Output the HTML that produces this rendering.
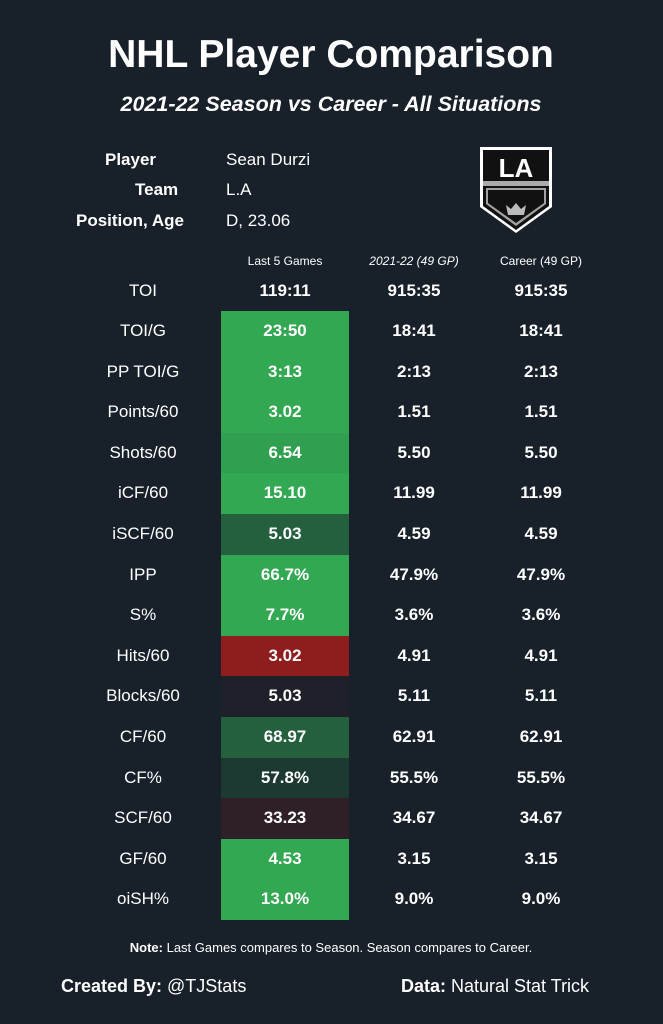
<!DOCTYPE html>
<html><head><meta charset="utf-8"><style>
body{margin:0;width:663px;height:1024px;background:#18202a;color:#fff;font-family:"Liberation Sans",sans-serif;position:relative;overflow:hidden}
.a{position:absolute;white-space:nowrap}
.c{transform:translateX(-50%)}
.row{position:absolute;left:0;width:663px;height:40.6px;line-height:40.6px;font-size:17px}
.row span{position:absolute;transform:translateX(-50%)}
.l{left:143px}
.v1{left:221px;width:128px;text-align:center;transform:none!important;font-weight:bold;height:40.6px}
.v2{left:414px;font-weight:bold}
.v3{left:541px;font-weight:bold}
</style></head><body>
<div class="a c" style="left:331px;top:33px;font-size:39px;font-weight:bold">NHL Player Comparison</div>
<div class="a c" style="left:331px;top:92px;font-size:21.5px;font-weight:bold;font-style:italic">2021-22 Season vs Career - All Situations</div>
<div class="a" style="left:105px;top:150px;font-size:17px;font-weight:bold">Player</div>
<div class="a" style="left:135px;top:180px;font-size:17px;font-weight:bold">Team</div>
<div class="a" style="left:76px;top:211px;font-size:17px;font-weight:bold">Position, Age</div>
<div class="a" style="left:226px;top:150px;font-size:17px">Sean Durzi</div>
<div class="a" style="left:226px;top:180px;font-size:17px">L.A</div>
<div class="a" style="left:226px;top:211px;font-size:17px">D, 23.06</div>
<svg class="a" style="left:478px;top:145px" width="76" height="90" viewBox="0 0 76 90">
<path d="M2 2H74V62L38 88L2 62Z" fill="#fff"/>
<path d="M5 5H71V61L38 85L5 61Z" fill="#111"/>
<path d="M5 36H71V41H5Z" fill="#aaa"/>
<path d="M8 43H68V59L38 81L8 59Z" fill="#a2a2a2"/><path d="M10 45H66V58L38 78L10 58Z" fill="#111"/>
<text x="38" y="32" text-anchor="middle" font-size="26" font-weight="bold" fill="#fff" font-family="Liberation Sans">LA</text>
<path d="M30 70L28 60L33 64L38 58L43 64L48 60L46 70Z" fill="#bbb"/>
</svg>
<div class="a c" style="left:285px;top:254px;font-size:12px">Last 5 Games</div>
<div class="a c" style="left:414px;top:254px;font-size:12px;font-style:italic">2021-22 (49 GP)</div>
<div class="a c" style="left:541px;top:254px;font-size:12px">Career (49 GP)</div>
<div class="row" style="top:271px"><span class="l">TOI</span><span class="v1">119:11</span><span class="v2">915:35</span><span class="v3">915:35</span></div>
<div class="row" style="top:311px"><span class="l">TOI/G</span><span class="v1" style="background:#33a852">23:50</span><span class="v2">18:41</span><span class="v3">18:41</span></div>
<div class="row" style="top:351.6px"><span class="l">PP TOI/G</span><span class="v1" style="background:#33a852">3:13</span><span class="v2">2:13</span><span class="v3">2:13</span></div>
<div class="row" style="top:392.2px"><span class="l">Points/60</span><span class="v1" style="background:#33a852">3.02</span><span class="v2">1.51</span><span class="v3">1.51</span></div>
<div class="row" style="top:432.8px"><span class="l">Shots/60</span><span class="v1" style="background:#30a050">6.54</span><span class="v2">5.50</span><span class="v3">5.50</span></div>
<div class="row" style="top:473.4px"><span class="l">iCF/60</span><span class="v1" style="background:#33a852">15.10</span><span class="v2">11.99</span><span class="v3">11.99</span></div>
<div class="row" style="top:514px"><span class="l">iSCF/60</span><span class="v1" style="background:#25603e">5.03</span><span class="v2">4.59</span><span class="v3">4.59</span></div>
<div class="row" style="top:554.6px"><span class="l">IPP</span><span class="v1" style="background:#33a852">66.7%</span><span class="v2">47.9%</span><span class="v3">47.9%</span></div>
<div class="row" style="top:595.2px"><span class="l">S%</span><span class="v1" style="background:#33a852">7.7%</span><span class="v2">3.6%</span><span class="v3">3.6%</span></div>
<div class="row" style="top:635.8px"><span class="l">Hits/60</span><span class="v1" style="background:#8f1d1e">3.02</span><span class="v2">4.91</span><span class="v3">4.91</span></div>
<div class="row" style="top:676.4px"><span class="l">Blocks/60</span><span class="v1" style="background:#20202b">5.03</span><span class="v2">5.11</span><span class="v3">5.11</span></div>
<div class="row" style="top:717px"><span class="l">CF/60</span><span class="v1" style="background:#24603e">68.97</span><span class="v2">62.91</span><span class="v3">62.91</span></div>
<div class="row" style="top:757.6px"><span class="l">CF%</span><span class="v1" style="background:#1d3a32">57.8%</span><span class="v2">55.5%</span><span class="v3">55.5%</span></div>
<div class="row" style="top:798.2px"><span class="l">SCF/60</span><span class="v1" style="background:#2f2028">33.23</span><span class="v2">34.67</span><span class="v3">34.67</span></div>
<div class="row" style="top:838.8px"><span class="l">GF/60</span><span class="v1" style="background:#33a852">4.53</span><span class="v2">3.15</span><span class="v3">3.15</span></div>
<div class="row" style="top:879.4px"><span class="l">oiSH%</span><span class="v1" style="background:#33a852">13.0%</span><span class="v2">9.0%</span><span class="v3">9.0%</span></div>
<div class="a c" style="left:331px;top:940px;font-size:13px"><b>Note:</b> Last Games compares to Season. Season compares to Career.</div>
<div class="a" style="left:61px;top:976px;font-size:18px"><b>Created By:</b> @TJStats</div>
<div class="a" style="left:401px;top:976px;font-size:18px"><b>Data:</b> Natural Stat Trick</div>
</body></html>
